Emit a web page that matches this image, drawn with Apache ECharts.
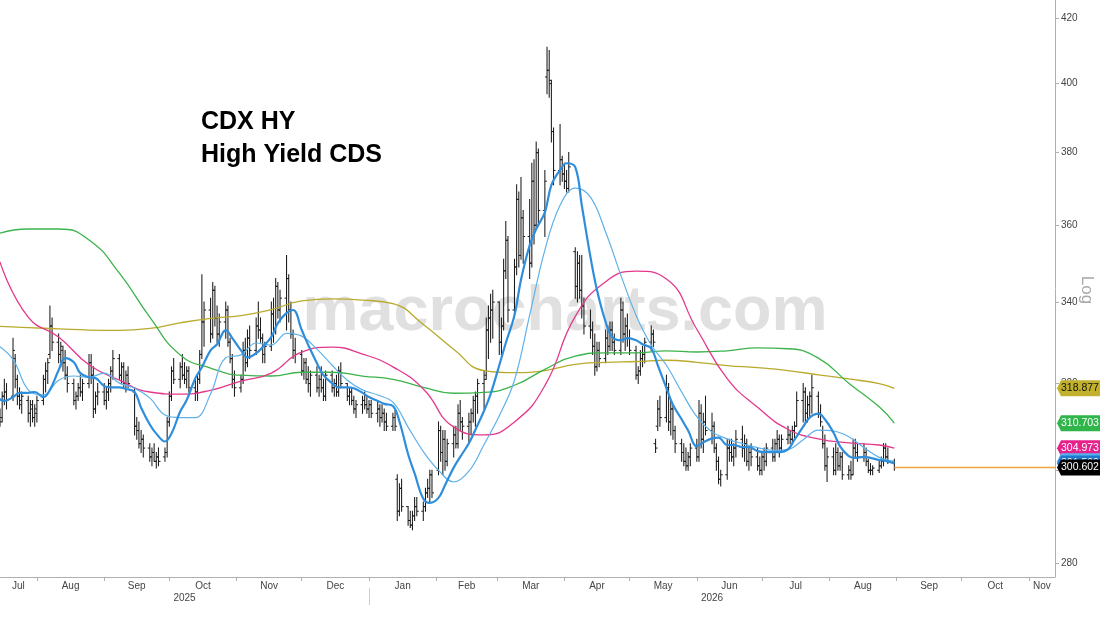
<!DOCTYPE html>
<html><head><meta charset="utf-8">
<script src="https://cdn.jsdelivr.net/npm/echarts@6/dist/echarts.min.js"></script>
<style>html,body{margin:0;padding:0;background:#fff}#c{width:1100px;height:619px}</style>
</head><body><div id="c"></div>
<script>
// ---------- DATA ----------
const firstDay = '2025-07-15';           // first trading day shown
const axisStart = '2025-07-15';
const axisEnd = '2026-11-13';
// daily bars: [open, high, low, close], one per weekday from firstDay
const ohlc = [
[312,314,310,311],[312,318,311,317],[317,321,315,318],[318,320,314,316],
[317,331,316,328],[326,327,319,321],[321,322,315,317],[317,319,314,315],[316,318,313,317],
[316,317,311,313],[313,316,310,315],[314,316,311,312],[312,315,310,314],[313,317,311,316],
[316,322,315,321],[321,325,318,323],[323,326,320,325],[327,339,326,334],[334,336,328,330],
[330,332,325,327],[327,330,324,329],[328,329,323,325],[325,328,321,322],[322,324,318,320],
[320,321,315,316],[316,318,314,317],[317,320,316,319],[319,322,317,318],[318,321,316,320],
[320,327,319,325],[325,327,320,322],[322,324,312,314],[314,318,313,317],[317,320,315,318],
[318,320,315,316],[316,319,314,318],[318,321,316,320],[320,324,318,323],[323,328,321,326],
[326,327,321,322],[322,325,320,324],[324,325,319,320],[320,323,318,322],[322,324,319,320],
[318,319,308,310],[310,312,307,309],[309,311,305,306],[306,309,304,307],[307,308,303,305],
[305,306,302,303],[303,305,301,304],[304,306,302,302],[302,304,300.5,303],[303,305,301,302],
[303,305,302,304],[304,312,303,311],[311,318,310,317],[317,324,316,323],[323,326,320,321],
[321,325,319,324],[324,327,321,322],[322,325,320,321],[321,324,319,323],[323,324,318,319],
[319,321,316,318],[318,322,316,321],[321,328,320,327],[327,347,326,335],[335,340,329,338],
[338,341,330,332],[332,345,331,343],[343,344,334,336],[336,339,330,332],[332,337,329,335],
[335,340,331,338],[338,339,329,330],[330,331,325,326],[326,327,319,321],[321,323,317,319],
[319,322,318,321],[321,330,320,328],[328,331,323,325],[325,333,324,331],[331,334,326,328],
[328,336,327,334],[334,340,331,333],[333,336,330,331],[331,332,325,327],[327,330,325,329],
[329,340,328,337],[337,341,330,333],[333,346,332,344],[344,345,336,338],[338,343,335,341],
[341,352,333,346],[346,347,335,338],[338,340,331,332],[332,333,326,328],[328,331,325,327],
[327,328,322,323],[323,326,321,325],[325,326,320,321],[321,324,318,320],[320,323,317,322],
[322,324,318,319],[319,322,317,321],[321,324,318,319],[319,321,316,317],[317,323,316,322],
[322,323,318,319],[319,321,317,320],[320,322,317,318],[318,324,317,323],[323,325,319,320],
[320,320,316,317],[317,319,315,318],[318,319,315,316],[316,317,313,314],[314,316,312,315],
[315,317,313,316],[316,318,314,315],[315,317,313,314],[314,316,312,315],[315,316,312,313],
[313,316,311,314],[314,315,310,312],[312,315,311,313],[313,314,309,311],[311,313,309,310],
[310,313,309,312],[312,314,309,310],[298,299,289,291],[291,297,290,296],[296,298,291,292],
[292,292,288,289],[289,291,287.5,288],[288,291,287,290],[290,294,289,292],[292,294,290,291],
[291,293,289,292],[292,296,291,295],[295,298,294,296],[296,300,293,299],[299,300,294,295],
[300,311,299,309],[309,310,302,304],[304,309,299,307],[307,309,300,302],[302,307,301,306],
[306,310,303,308],[308,310,305,306],[306,315,305,313],[313,316,309,311],[311,312,307,310],
[310,313,306,311],[311,314,308,313],[313,317,311,316],[316,318,310,317],[317,321,313,320],
[320,323,314,321],[322,336,321,333],[333,339,326,336],[336,342,330,338],[338,343,331,340],
[340,340,327,330],[330,336,327,334],[334,351,333,348],[348,361,346,356],[356,357,335,338],
[338,351,336,349],[349,371,347,367],[367,369,349,352],[352,373,351,362],[362,364,350,357],
[357,367,346,350],[350,377,349,372],[372,378,355,360],[360,383,359,380],[380,381,360,364],
[364,375,357,372],[402,411,397,404],[404,410,396,401],[400,401,383,386],[386,387,371,375],
[375,388,371,378],[378,379,372,374],[374,377,370,372],[372,375,369,370],[370,380,369,376],
[353,354,341,344],[344,353,340,350],[350,352,341,343],[343,352,336,339],[339,341,332,334],
[334,338,331,333],[333,335,327,329],[329,332,322,324],[324,330,323,328],[328,330,324,326],
[326,333,325,331],[331,334,327,329],[329,335,328,333],[333,335,328,330],[330,332,327,328],
[328,341,327,338],[338,340,330,332],[332,336,328,334],[334,337,329,331],[331,333,327,328],
[328,329,321,322],[322,324,320,323],[323,328,322,326],[326,329,324,327],[327,331,325,330],
[330,334,328,332],[332,333,329,330],[306,307,304,305],[310,316,309,314],[314,317,310,312],
[312,322,311,319],[319,320,309,311],[311,316,308,314],[314,315,307,309],[309,310,304,306],
[306,307,302,304],[304,306,301,302],[302,305,300,301],[301,304,300,303],[303,306,301,305],
[305,307,302,303],[303,316,302,313],[313,315,305,307],[307,313,304,311],[311,317,308,309],
[309,313,306,310],[310,311,304,305],[305,306,300,302],[302,303,297,298],[298,300,296.5,299],
[299,307,298,305],[305,307,302,304],[304,307,302,303],[303,306,301,305],[305,309,303,307],
[307,310,303,305],[305,308,302,306],[306,307,301,302],[302,305,300,304],[304,306,301,303],
[303,305,300,301],[301,303,299,300],[300,304,299,303],[303,305,300,302],[302,306,301,305],
[305,307,302,303],[303,307,302,306],[306,309,304,307],[307,308,303,305],[305,308,304,307],
[307,310,306,308],[308,309,306,307],[307,310,306,309],[309,311,307,310],[310,318,310,316],
[316,320,311,318],[318,319,311,313],[313,317,311,315],[315,318,312,317],[317,322,313,319],
[317,318,312,313],[313,315,310,311],[309,310,305,306],[306,308,300,301],[301,305,297.5,303],
[303,305,299,300],[300,306,299,304],[304,305,300,301],[301,304,300,303],[303,304,298,299],
[299,301,298,300],[300,302,298,299],[299,307,299,305],[305,307,303,304],[304,306,302,303],
[303,306,302,304],[304,305,301,302],[302,302.5,299.5,300],[300,301.5,299,300],[300,301,299,300.5],
[300,302,299.5,301],[301,303,300.5,302],[302,306,301,305],[305,306,302,303],[303,305,301.5,302],
[302,302.5,300,300.602]
];

// slow moving averages, sampled every second Monday
const slowDates = ['2025-07-15','2025-07-28','2025-08-11','2025-08-25','2025-09-08','2025-09-22','2025-10-06','2025-10-20',
'2025-11-03','2025-11-17','2025-12-01','2025-12-15','2025-12-29','2026-01-12','2026-01-26','2026-02-09','2026-02-23',
'2026-03-09','2026-03-23','2026-04-06','2026-04-20','2026-05-04','2026-05-18','2026-06-01','2026-06-15','2026-06-29',
'2026-07-13','2026-07-27','2026-08-10','2026-08-24','2026-08-31'];
const maOlive = [333.9,333.6,333.3,333.0,332.9,333.4,334.8,335.9,336.6,338.1,340.3,340.8,340.5,339.6,334.4,328.3,323.1,
322.6,323.1,324.6,325.1,325.3,325.6,325.1,324.3,323.8,323.1,322.1,321.1,320.0,318.877];
const maGreen = [357.9,359.0,359.0,356.1,347.4,336.2,326.9,323.7,322.0,321.8,322.7,322.7,321.8,321.0,319.1,317.7,317.9,
319.6,323.4,326.6,327.4,327.4,327.9,327.6,327.9,328.6,328.4,326.1,320.1,314.5,310.703];
const maPink = [350.3,336.2,331.3,324.5,320.8,318.0,317.5,318.4,320.6,322.5,327.6,328.8,327.1,324.0,318.7,309.8,308.0,
311.0,319.5,336.4,345.2,347.9,345.9,333.2,321.2,314.4,309.3,307.1,306.2,305.7,304.973];

// fast moving averages
const fastStart = '2025-07-14';   // Monday of the first week
// light blue: one value per Monday
const maLight = [329.3,325.8,318.5,317.3,320.8,321.8,321.5,322.5,320.1,318.9,
316.6,312.6,312.0,312.0,317.5,326.2,326.9,329.8,329.3,332.2,
331.5,328.3,324.4,320.8,318.5,317.3,315.6,309.8,304.2,300.0,
297.4,299.8,305.8,312.4,320.8,336.7,353.4,365.4,370.1,367.6,
358.2,346.9,336.7,329.3,324.4,318.0,312.2,308.7,307.1,306.0,
305.1,304.5,304.7,306.9,309.1,308.9,307.6,305.1,302.9,302.0];
// thick blue: Monday and Thursday of each week
const maBlue = [316.6,315.9, 316.8,317.8, 317.8,318.0, 316.8,318.5, 323.2,326.1, 325.1,322.5, 321.5,321.3, 319.4,319.1,
319.1,318.7, 318.0,314.3, 310.4,308.3, 306.5,308.3, 313.4,316.1, 321.3,323.9, 328.0,329.5, 333.0,331.0,
328.0,326.3, 327.3,328.8, 331.3,334.7, 337.3,338.0, 333.0,329.3, 324.9,322.0, 320.1,319.1, 319.1,318.9,
317.8,316.8, 315.9,315.2, 314.7,311.1, 303.6,299.3, 293.7,292.8, 293.9,296.7, 300.6,303.0, 306.1,309.2,
313.6,317.5, 324.4,329.8, 336.7,345.7, 354.7,359.0, 363.5,370.9, 375.1,377.0, 375.9,365.4, 351.6,343.1,
335.0,331.3, 330.5,331.0, 330.5,329.5, 328.5,324.4, 318.9,315.0, 311.6,309.0, 305.4,306.3, 307.2,307.4,
305.7,305.7, 305.2,305.2, 304.3,304.1, 304.1,304.1, 304.7,306.9, 309.9,312.0, 312.9,311.6, 308.5,305.4,
303.2,302.8, 303.0,302.8, 302.3,302.1, 301.5];

const yTicks = [280,300,320,340,360,380,400,420];
const yMin = 277.1, yMax = 425.7;
const monthNames = ['Jan','Feb','Mar','Apr','May','Jun','Jul','Aug','Sep','Oct','Nov','Dec'];
const titleLines = ['CDX HY','High Yield CDS'];
const watermark = 'macrocharts.com';

// ---------- BUILD ----------
function d(s){const p=s.split('-').map(Number);return new Date(p[0],p[1]-1,p[2]).getTime();}
function addDays(t,n){const x=new Date(t);x.setDate(x.getDate()+n);return x.getTime();}
const L = Math.log;

const tradeDates = [];
{let t=d(firstDay);while(tradeDates.length<ohlc.length){const wd=new Date(t).getDay();if(wd!==0&&wd!==6)tradeDates.push(t);t=addDays(t,1);}}
const barData = ohlc.map((b,i)=>[tradeDates[i],L(b[0]),L(b[1]),L(b[2]),L(b[3])]);
const lastDate = tradeDates[tradeDates.length-1];
const lastClose = ohlc[ohlc.length-1][3];

const slowSeries = vals => vals.map((v,i)=>[d(slowDates[i]),L(v)]);
const lightData = maLight.map((v,i)=>[addDays(d(fastStart),7*i),L(v)]);
const blueData = maBlue.map((v,i)=>[addDays(d(fastStart),7*Math.floor(i/2)+(i%2)*3),L(v)]);

// month ticks & label positions
const monthTicks=[], monthLabelPos=[];
{
  const s=d(axisStart), e=d(axisEnd);
  const s0=new Date(s);
  let y=s0.getFullYear(), m=s0.getMonth();
  while(true){
    const ms=new Date(y,m,1).getTime(), me=new Date(y,m+1,1).getTime();
    if(ms>e)break;
    if(ms>=s)monthTicks.push(ms);
    const a=Math.max(ms,s), b=Math.min(me,e);
    monthLabelPos.push((a+b)/2);
    m++; if(m>11){m=0;y++;}
  }
}
const yearBoundary = d('2026-01-01');
const yearLabelPos = [(d(axisStart)+yearBoundary)/2,(yearBoundary+d(axisEnd))/2];

const font = 'Liberation Sans, Arial, sans-serif';

function lineSeries(name,data,color,width,z,smooth){
  return {type:'line',name,data,showSymbol:false,smooth,z,
    lineStyle:{color,width},itemStyle:{color},animation:false};
}

const chart = echarts.init(document.getElementById('c'),null,{renderer:'canvas'});
chart.setOption({
  animation:false,
  backgroundColor:'#fff',
  grid:{left:0,right:45,top:0,bottom:42,containLabel:false},
  xAxis:[{
    type:'value',min:d(axisStart),max:d(axisEnd),
    axisLine:{show:true,onZero:false,lineStyle:{color:'#b0b0b0',width:1}},
    axisTick:{show:true,length:4,lineStyle:{color:'#b0b0b0'},customValues:monthTicks},
    axisLabel:{show:true,customValues:monthLabelPos,margin:4,fontSize:10,color:'#444',fontFamily:font,
      formatter:v=>monthNames[new Date(v).getMonth()]},
    splitLine:{show:false}
  },{
    type:'value',min:d(axisStart),max:d(axisEnd),position:'bottom',offset:11,
    axisLine:{show:false,onZero:false},
    axisTick:{show:true,length:17,lineStyle:{color:'#cfcfcf'},customValues:[yearBoundary]},
    axisLabel:{show:true,customValues:yearLabelPos,margin:5,fontSize:10,color:'#444',fontFamily:font,
      formatter:v=>String(new Date(v).getFullYear())},
    splitLine:{show:false}
  }],
  yAxis:{
    type:'value',position:'right',min:L(yMin),max:L(yMax),
    axisLine:{show:true,onZero:false,lineStyle:{color:'#b0b0b0'}},
    axisTick:{show:true,length:4,lineStyle:{color:'#b0b0b0'},customValues:yTicks.map(L)},
    axisLabel:{show:true,customValues:yTicks.map(L),margin:6,fontSize:10,color:'#444',fontFamily:font,
      formatter:v=>String(Math.round(Math.exp(v)))},
    splitLine:{show:false}
  },
  series:[
    lineSeries('ma200',slowSeries(maOlive),'#b9aa2c',1.3,3,true),
    lineSeries('ma100',slowSeries(maGreen),'#3db34b',1.3,3,true),
    lineSeries('ma50',slowSeries(maPink),'#e5388c',1.3,3,true),
    {
      type:'custom',name:'CDX HY',z:2,data:barData,encode:{x:0,y:[1,2,3,4]},clip:true,animation:false,
      renderItem:(params,api)=>{
        const t=api.value(0);
        const pH=api.coord([t,api.value(2)]), pL=api.coord([t,api.value(3)]);
        const pO=api.coord([t,api.value(1)]), pC=api.coord([t,api.value(4)]);
        const st={stroke:'#1a1a1a',lineWidth:1.05};
        return {type:'group',children:[
          {type:'line',shape:{x1:pH[0],y1:pH[1]-0.5,x2:pL[0],y2:pL[1]+0.5},style:st},
          {type:'line',shape:{x1:pO[0]-2,y1:pO[1],x2:pO[0],y2:pO[1]},style:{stroke:'#1a1a1a',lineWidth:1}},
          {type:'line',shape:{x1:pC[0],y1:pC[1],x2:pC[0]+2,y2:pC[1]},style:{stroke:'#1a1a1a',lineWidth:1}}
        ]};
      }
    },
    lineSeries('ma10',lightData,'#5fb1ea',1.2,4,0.4),
    lineSeries('ma5',blueData,'#2f8edc',2.2,5,0.4),
    {
      type:'line',name:'last',z:6,showSymbol:false,animation:false,
      data:[[lastDate,L(lastClose)],[d(axisEnd),L(lastClose)]],
      lineStyle:{color:'#f0a640',width:1.5}
    }
  ]
});

// overlays: watermark, title, "Log", and last-value tags placed through the axis scale
const tags = [
  [maOlive[maOlive.length-1],'#c2b12c','#111'],
  [maGreen[maGreen.length-1],'#2fb54a','#fff'],
  [maPink[maPink.length-1],'#e5228c','#fff'],
  [maLight[maLight.length-1],'#56b2ee','#fff'],
  [maBlue[maBlue.length-1],'#1f78cc','#fff'],
  [lastClose,'#000','#fff']
];
const axisX = chart.convertToPixel({xAxisIndex:0}, d(axisEnd));
const els = [
  {type:'text',z:-5,x:565,y:313,silent:true,style:{text:watermark,font:'bold 63px '+font,fill:'#e0e0e0',align:'center',verticalAlign:'middle'}},
  {type:'text',z:10,x:201,y:122,style:{text:titleLines[0],font:'bold 25px '+font,fill:'#000',align:'left',verticalAlign:'middle'}},
  {type:'text',z:10,x:201,y:155,style:{text:titleLines[1],font:'bold 25px '+font,fill:'#000',align:'left',verticalAlign:'middle'}},
  {type:'text',z:10,x:1087,y:290,rotation:-Math.PI/2,style:{text:'Log',font:'17px '+font,fill:'#a8a8a8',align:'center',verticalAlign:'middle'}}
];
tags.forEach((t,i)=>{
  const y = chart.convertToPixel({yAxisIndex:0}, L(t[0]));
  const x0 = axisX + 2, h = 8;
  els.push({type:'polygon',z:20+i*2,shape:{points:[[x0,y],[x0+4,y-h],[1100,y-h],[1100,y+h],[x0+4,y+h]]},
    style:{fill:t[1]}});
  els.push({type:'text',z:21+i*2,x:x0+4,y:y,style:{text:t[0].toFixed(3),font:'10.5px '+font,fill:t[2],align:'left',verticalAlign:'middle'}});
});
chart.setOption({graphic:{elements:els}});
</script>
</body></html>
